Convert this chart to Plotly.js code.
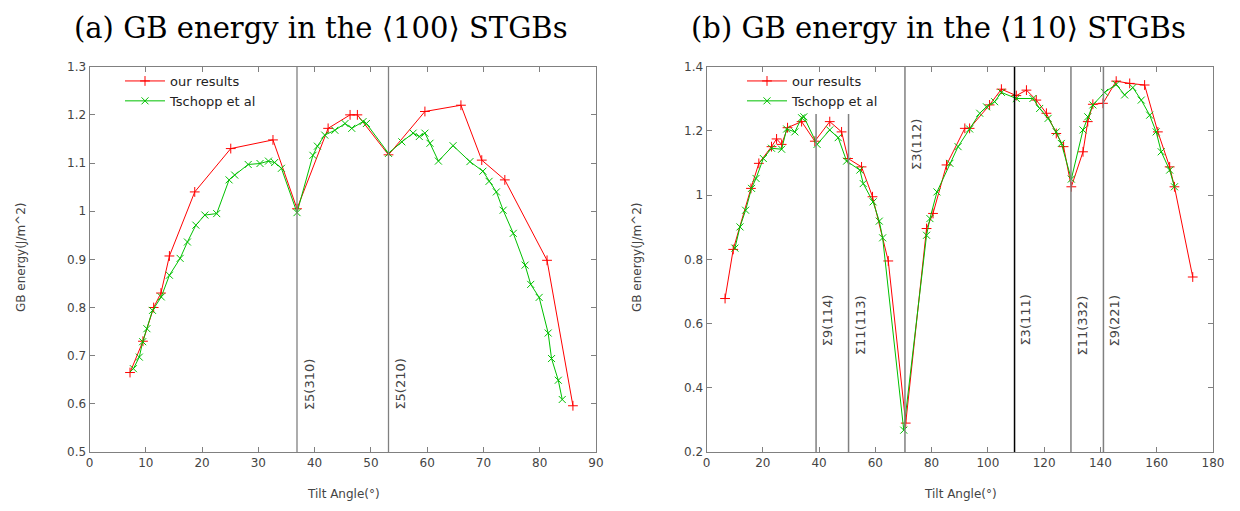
<!DOCTYPE html>
<html><head><meta charset="utf-8">
<script src="https://cdn.plot.ly/plotly-3.0.1.min.js"></script>
<style>html,body{margin:0;padding:0;background:#fff}#c{width:1240px;height:511px}</style>
</head><body><div id="c"></div>
<script>
// ---- Panel (a): <100> STGBs ----
const leftOursX = [7.2, 9.5, 11.4, 12.7, 14.2, 18.7, 25.1, 32.6, 36.87, 42.4, 46.3, 47.6, 53.13, 59.6, 66.0, 69.7, 73.8, 81.3, 85.9];
const leftOursY = [0.665, 0.73, 0.80, 0.83, 0.907, 1.04, 1.13, 1.148, 1.005, 1.172, 1.20, 1.20, 1.117, 1.207, 1.22, 1.106, 1.065, 0.898, 0.596];
const leftTschX = [7.8, 8.85, 9.45, 10.2, 11.2, 12.75, 14.2, 16.1, 17.4, 18.9, 20.5, 22.6, 24.8, 25.8, 28.2, 30.3, 31.8, 32.9, 34.1, 36.87, 39.7, 40.5, 41.8, 43.6, 45.4, 46.6, 48.6, 49.2, 53.13, 55.5, 57.5, 58.6, 59.6, 60.5, 62.0, 64.6, 67.6, 69.9, 71.0, 72.3, 73.5, 75.3, 77.4, 78.4, 79.9, 81.5, 82.1, 83.3, 84.0];
const leftTschY = [0.673, 0.697, 0.729, 0.756, 0.794, 0.822, 0.867, 0.902, 0.936, 0.971, 0.992, 0.995, 1.065, 1.075, 1.097, 1.099, 1.104, 1.101, 1.089, 0.997, 1.116, 1.135, 1.158, 1.168, 1.182, 1.172, 1.186, 1.182, 1.12, 1.144, 1.162, 1.155, 1.162, 1.141, 1.104, 1.136, 1.103, 1.083, 1.062, 1.040, 1.002, 0.954, 0.888, 0.848, 0.821, 0.747, 0.694, 0.649, 0.609];
const leftSigmaAngles = [36.87, 53.13];
const leftSigmaLabels = ["Σ5(310)", "Σ5(210)"];

// ---- Panel (b): <110> STGBs ----
const rightOursX = [6.6, 9.5, 15.8, 18.6, 23.1, 24.9, 26.7, 28.8, 33.8, 38.5, 43.8, 48.0, 50.3, 55.1, 59.0, 64.6, 70.8, 78.2, 80.5, 85.3, 91.8, 93.5, 100.6, 104.8, 110.1, 113.7, 117.2, 120.8, 124.3, 126.9, 129.65, 133.8, 135.5, 137.3, 140.9, 145.6, 150.4, 155.7, 160.4, 164.6, 166.3, 172.8];
const rightOursY = [0.678, 0.831, 1.021, 1.099, 1.151, 1.175, 1.158, 1.210, 1.229, 1.168, 1.229, 1.197, 1.114, 1.088, 0.995, 0.795, 0.290, 0.896, 0.943, 1.094, 1.208, 1.208, 1.281, 1.330, 1.310, 1.327, 1.296, 1.255, 1.192, 1.151, 1.026, 1.135, 1.229, 1.283, 1.286, 1.355, 1.348, 1.343, 1.197, 1.088, 1.026, 0.745];
const rightTschX = [10.1, 11.9, 13.9, 16.0, 17.6, 20.2, 23.1, 26.7, 28.5, 31.4, 33.8, 34.6, 39.3, 43.8, 46.8, 49.8, 54.5, 55.7, 59.2, 61.4, 62.6, 70.1, 78.2, 79.4, 81.9, 86.5, 89.4, 93.5, 97.1, 99.5, 102.4, 104.8, 110.1, 116.0, 118.4, 121.4, 124.3, 126.1, 129.65, 133.8, 135.5, 137.3, 141.5, 145.6, 148.6, 151.5, 154.5, 157.5, 159.8, 161.6, 164.6, 166.3];
const rightTschY = [0.835, 0.901, 0.953, 1.021, 1.052, 1.114, 1.146, 1.143, 1.206, 1.197, 1.241, 1.244, 1.158, 1.203, 1.179, 1.106, 1.078, 1.036, 0.979, 0.919, 0.867, 0.268, 0.875, 0.927, 1.010, 1.099, 1.151, 1.206, 1.255, 1.275, 1.291, 1.320, 1.301, 1.301, 1.270, 1.239, 1.197, 1.161, 1.050, 1.203, 1.244, 1.281, 1.320, 1.345, 1.312, 1.335, 1.296, 1.249, 1.197, 1.135, 1.078, 1.026];
const rightSigmaAngles = [38.94, 50.48, 70.53, 109.47, 129.52, 141.06];
const rightSigmaLabels = ["Σ9(114)", "Σ11(113)", "Σ3(112)", "Σ3(111)", "Σ11(332)", "Σ9(221)"];
const rightSigmaTop = [1.253, 1.253, 1.4, 1.4, 1.4, 1.4];
const rightLabelTop = [0.695, 0.695, 1.243, 0.695, 0.695, 0.695];
const rightSigmaColor = ["#808080", "#808080", "#808080", "#000000", "#808080", "#808080"];

const seriesNames = ["our results", "Tschopp et al"];
const RED = "#ff0000", GREEN = "#00c000";
const SANS = "DejaVu Sans, sans-serif";
const SERIF = "DejaVu Serif, Liberation Serif, serif";

function tr(x, y, name, color, sym, xa, ya, leg) {
  return {x: x, y: y, name: name, type: "scatter", mode: "lines+markers",
    xaxis: xa, yaxis: ya, legend: leg,
    line: {color: color, width: 1},
    marker: {symbol: sym, size: 7, color: color, line: {color: color, width: 1}}};
}
const data = [
  tr(leftOursX, leftOursY, seriesNames[0], RED, "cross-thin", "x", "y", "legend"),
  tr(leftTschX, leftTschY, seriesNames[1], GREEN, "x-thin", "x", "y", "legend"),
  tr(rightOursX, rightOursY, seriesNames[0], RED, "cross-thin", "x2", "y2", "legend2"),
  tr(rightTschX, rightTschY, seriesNames[1], GREEN, "x-thin", "x2", "y2", "legend2")
];

function ax(domain, range, dtick, anchor) {
  return {domain: domain, range: range, dtick: dtick, tick0: 0, anchor: anchor,
    showgrid: false, zeroline: false, showline: true, linecolor: "#808080", linewidth: 1,
    mirror: "ticks", ticks: "inside", ticklen: 5, tickcolor: "#808080",
    tickfont: {family: SANS, size: 12, color: "#444"}, fixedrange: true};
}
const yDom = [1 - 452 / 511, 1 - 66.7 / 511];
const shapes = [], annotations = [];
leftSigmaAngles.forEach((a, i) => {
  shapes.push({type: "line", xref: "x", yref: "y", x0: a, x1: a, y0: 0.5, y1: 1.3,
    line: {color: "#808080", width: 1.3}});
  annotations.push({xref: "x", yref: "y", x: a, y: 0.697, text: leftSigmaLabels[i], textangle: -90,
    xanchor: "left", yanchor: "top", xshift: 3, showarrow: false,
    font: {family: SANS, size: 13, color: "#444"}});
});
rightSigmaAngles.forEach((a, i) => {
  shapes.push({type: "line", xref: "x2", yref: "y2", x0: a, x1: a, y0: 0.2, y1: rightSigmaTop[i],
    line: {color: rightSigmaColor[i], width: 1.5}});
  annotations.push({xref: "x2", yref: "y2", x: a, y: rightLabelTop[i], text: rightSigmaLabels[i], textangle: -90,
    xanchor: "left", yanchor: "top", xshift: 2, showarrow: false,
    font: {family: SANS, size: 13, color: "#444"}});
});
const titleFont = {family: SERIF, size: 29, color: "#000"};
annotations.push({xref: "paper", yref: "paper", x: 321 / 1240, y: 1 - 28 / 511, xanchor: "center", yanchor: "middle",
  text: "(a) GB energy in the ⟨100⟩ STGBs", showarrow: false, font: titleFont});
annotations.push({xref: "paper", yref: "paper", x: 938 / 1240, y: 1 - 28 / 511, xanchor: "center", yanchor: "middle",
  text: "(b) GB energy in the ⟨110⟩ STGBs", showarrow: false, font: titleFont});
const labFont = {family: SANS, size: 12, color: "#444"};
[[343 / 1240, 1 - 494 / 511, "Tilt Angle(°)", 0], [960 / 1240, 1 - 494 / 511, "Tilt Angle(°)", 0],
 [21 / 1240, 1 - 258 / 511, "GB energy(J/m^2)", -90], [637 / 1240, 1 - 258 / 511, "GB energy(J/m^2)", -90]]
 .forEach(t => annotations.push({xref: "paper", yref: "paper", x: t[0], y: t[1], text: t[2], textangle: t[3],
   xanchor: "center", yanchor: "middle", showarrow: false, font: labFont}));

const legStyle = (x) => ({x: x, y: 1 - 66 / 511, xanchor: "left", yanchor: "top", bgcolor: "rgba(0,0,0,0)",
  font: {family: SANS, size: 13, color: "#222"}, tracegroupgap: 0, itemwidth: 40});
const layout = {
  width: 1240, height: 511, margin: {l: 0, r: 0, t: 0, b: 0},
  paper_bgcolor: "#fff", plot_bgcolor: "#fff", showlegend: true,
  xaxis: ax([89.5 / 1240, 596 / 1240], [0, 90], 10, "y"),
  yaxis: ax(yDom, [0.5, 1.3], 0.1, "x"),
  xaxis2: ax([706.5 / 1240, 1213 / 1240], [0, 180], 20, "y2"),
  yaxis2: ax(yDom, [0.2, 1.4], 0.2, "x2"),
  legend: legStyle(120 / 1240),
  legend2: legStyle(742 / 1240),
  shapes: shapes, annotations: annotations
};
Plotly.newPlot("c", data, layout, {displayModeBar: false, staticPlot: true});
</script></body></html>
